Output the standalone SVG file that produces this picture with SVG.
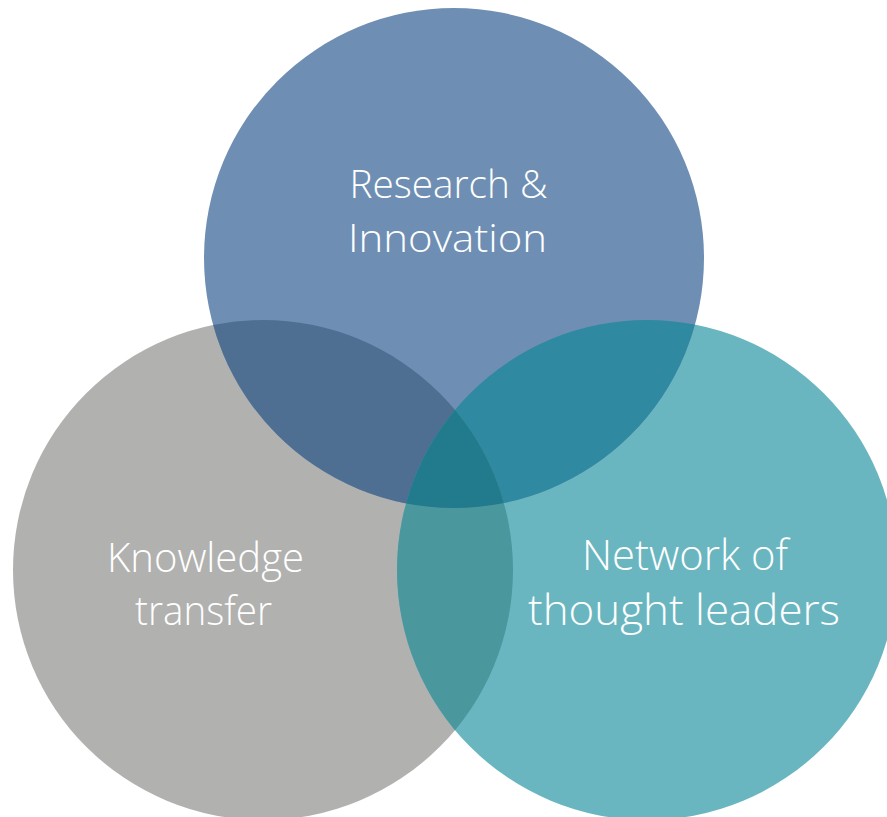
<svg xmlns="http://www.w3.org/2000/svg" width="887" height="817" viewBox="0 0 887 817">
<style>
.lbl{font-family:"Open Sans","Noto Sans","Liberation Sans",sans-serif;font-weight:300;fill:#ffffff;text-anchor:middle}
</style>
<defs>
<clipPath id="cTop"><circle cx="454" cy="258" r="250"/></clipPath>
<clipPath id="cLeft"><circle cx="263" cy="570" r="250"/></clipPath>
<clipPath id="cRight"><circle cx="647" cy="570" r="250"/></clipPath>
</defs>
<rect width="887" height="817" fill="#ffffff"/>
<g id="node-knowledge">
<circle cx="263" cy="570" r="250" fill="#B1B1B0"/>
</g>
<g id="node-network">
<circle cx="647" cy="570" r="250" fill="#6AB6C0"/>
</g>
<g id="node-research">
<circle cx="454" cy="258" r="250" fill="#6E8FB3"/>
</g>
<g id="overlaps">
<circle cx="454" cy="258" r="250" fill="#4F6F92" clip-path="url(#cLeft)"/>
<circle cx="454" cy="258" r="250" fill="#2F89A0" clip-path="url(#cRight)"/>
<g clip-path="url(#cRight)"><circle cx="263" cy="570" r="250" fill="#4A979D"/></g>
<g clip-path="url(#cTop)"><g clip-path="url(#cRight)"><circle cx="263" cy="570" r="250" fill="#227A8D"/></g></g>
</g>
<g id="labels">
<text class="lbl" x="448.5" y="198" font-size="38" textLength="198" lengthAdjust="spacingAndGlyphs">Research &amp;</text>
<text class="lbl" x="447.5" y="252" font-size="38" textLength="199" lengthAdjust="spacingAndGlyphs">Innovation</text>
<text class="lbl" x="205.5" y="572" font-size="40" textLength="197" lengthAdjust="spacingAndGlyphs">Knowledge</text>
<text class="lbl" x="203.5" y="625" font-size="40" textLength="137" lengthAdjust="spacingAndGlyphs">transfer</text>
<text class="lbl" x="685" y="570" font-size="42" textLength="206" lengthAdjust="spacingAndGlyphs">Network of</text>
<text class="lbl" x="684" y="625" font-size="42" textLength="312" lengthAdjust="spacingAndGlyphs">thought leaders</text>
</g>
</svg>
